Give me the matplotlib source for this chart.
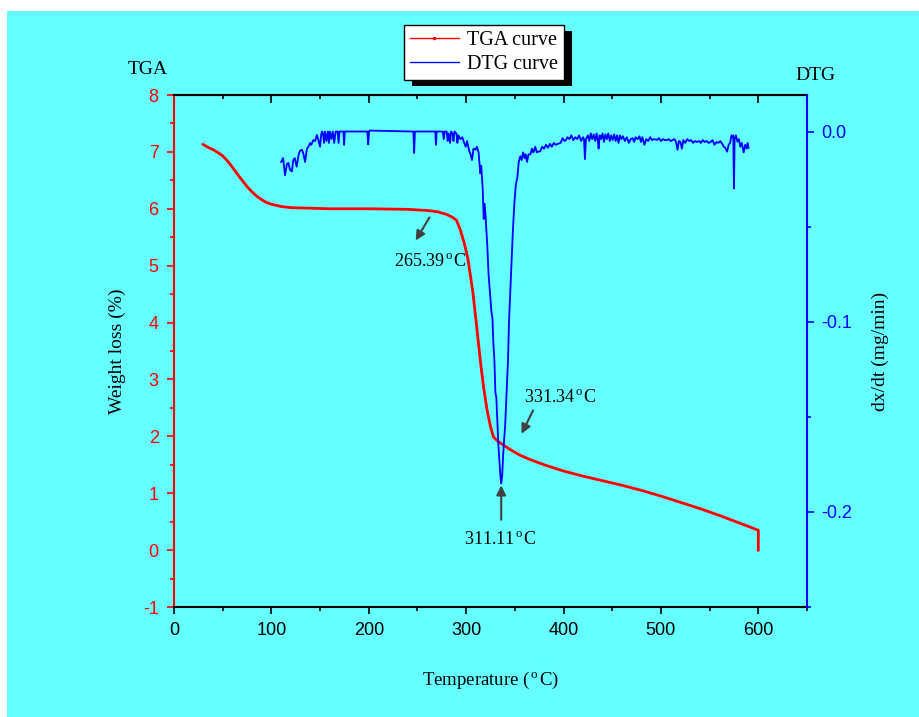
import matplotlib
matplotlib.use('Agg')
import matplotlib.pyplot as plt
from matplotlib.patches import Rectangle
from matplotlib.lines import Line2D
from matplotlib.ticker import MultipleLocator

plt.rcParams['font.family'] = ['Liberation Serif', 'DejaVu Serif']
plt.rcParams['mathtext.fontset'] = 'custom'
plt.rcParams['mathtext.rm'] = 'Liberation Serif'
plt.rcParams['mathtext.it'] = 'Liberation Serif:italic'
plt.rcParams['mathtext.bf'] = 'Liberation Serif:bold'
plt.rcParams['axes.unicode_minus'] = False

# TGA curve (weight loss, %)
tga_temp = [30, 35, 40, 45, 50, 55, 60, 65, 70, 75, 80, 85, 90, 95, 100, 110, 120, 140, 160,
            200, 240, 260, 270, 280, 286, 290, 294, 298, 302, 307, 311, 314.5, 318, 321.5,
            325, 328, 332, 338, 345, 355, 366, 380, 400, 420, 440, 460, 480, 500, 520, 540,
            560, 580, 600, 600]
tga_val = [7.13, 7.08, 7.04, 6.99, 6.93, 6.84, 6.73, 6.61, 6.5, 6.39, 6.3, 6.22, 6.16, 6.11,
           6.08, 6.04, 6.02, 6.01, 6.0, 6.0, 5.99, 5.97, 5.95, 5.9, 5.85, 5.8, 5.63, 5.4,
           5.1, 4.52, 3.9, 3.34, 2.85, 2.46, 2.17, 1.99, 1.92, 1.85, 1.77, 1.67, 1.59, 1.5,
           1.39, 1.30, 1.22, 1.14, 1.05, 0.95, 0.84, 0.73, 0.61, 0.48, 0.35, 0.0]

# DTG curve (dx/dt, mg/min)
dtg_temp = [110, 112, 114, 116, 117.5, 119, 121, 122.5, 124, 126, 128, 129.5, 131.5, 133,
            134.6, 136.5, 138, 139.8, 141, 143, 145, 146.7, 148, 150, 151, 152,
            153, 154, 155, 156.5, 158, 159, 160, 161.5, 163, 164.5, 166, 168, 169, 170,
            174, 174.7, 175.4, 198.5, 199.4, 200.3, 201, 245.8, 246.6, 247.4, 268.3, 269,
            269.7, 276, 277, 278, 280, 281, 282, 283.5, 284.5, 286, 287, 288, 290, 291,
            292, 294, 296, 298, 299.5, 301, 303, 304.5, 306, 307.5, 309.6, 311, 312.8,
            314.5, 315.5, 317, 318, 319, 320, 321.7, 323, 324.5, 326, 327, 328, 329, 330,
            331, 332, 333, 334, 335, 336, 337, 338, 339, 340, 341.5, 343, 344, 345, 346,
            347, 348, 349.5, 351, 352.6, 354, 355.6, 357, 358.5, 360, 361, 362.5, 364,
            366, 367.5, 369, 371, 372.5, 374, 376, 378, 380, 382, 384, 386, 388, 390,
            392, 394, 397, 399, 401, 402.5, 404, 406, 408, 410, 412, 414, 416, 418, 420,
            421, 422, 423, 425, 426.5, 428, 429.5, 431, 432.5, 434, 435.5, 436, 437,
            438.5, 440, 441.5, 443, 444.5, 446, 447.5, 449, 450.5, 452, 453.5, 455,
            456.5, 458, 459.5, 461, 463, 465, 467, 469, 471, 472.5, 474, 476, 478,
            479.5, 481, 483, 485, 487, 489, 491, 493, 496, 498, 500, 502, 504, 506, 508,
            510, 512, 514, 515.5, 517, 518.5, 520, 521.5, 523, 525, 527, 529, 531, 533,
            535, 537, 539, 541, 543, 545, 547, 549, 551, 553, 555, 557, 559, 561, 563,
            564.5, 566, 568, 569.5, 571, 572.5, 573.6, 574.3, 575, 575.7, 577, 578.6,
            580, 581.5, 583, 585, 586.5, 588, 589, 590]
dtg_val = [-0.016, -0.014, -0.023, -0.017, -0.0165, -0.020, -0.021, -0.015, -0.014, -0.0185,
           -0.012, -0.010, -0.0096, -0.012, -0.016, -0.009, -0.008, -0.006, -0.007, -0.0045,
           -0.005, -0.0018, -0.004, -0.008, -0.002, 0.0,
           -0.001, -0.006, 0.0, -0.005, 0.0, -0.006, 0.0, -0.004, 0.0, -0.006, 0.0, 0.0,
           -0.006, 0.0, 0.0, -0.007, 0.0, 0.0, -0.0068, 0.0, 0.0005, 0.0, -0.0113, 0.0,
           0.0, -0.007, 0.0, 0.0, -0.004, 0.0, 0.0, -0.005, -0.001, -0.006, 0.0, -0.001,
           -0.005, 0.0, -0.001, -0.006, -0.002, -0.004, -0.003, -0.006, -0.008, -0.005,
           -0.010, -0.012, -0.015, -0.009, -0.0096, -0.008, -0.011, -0.022, -0.018, -0.030,
           -0.046, -0.038, -0.045, -0.060, -0.075, -0.085, -0.095, -0.098, -0.112, -0.12,
           -0.137, -0.14, -0.152, -0.164, -0.172, -0.180, -0.185, -0.181, -0.17, -0.162,
           -0.155, -0.138, -0.12, -0.10, -0.088, -0.075, -0.063, -0.052, -0.038, -0.028,
           -0.024, -0.016, -0.013, -0.015, -0.011, -0.014, -0.012, -0.016, -0.012, -0.012,
           -0.009, -0.011, -0.008, -0.011, -0.0105, -0.0105, -0.008, -0.009, -0.007,
           -0.0085, -0.0065, -0.008, -0.006, -0.007, -0.0065, -0.006, -0.0035, -0.005,
           -0.0045, -0.003, -0.004, -0.002, -0.0045, -0.003, -0.004, -0.002, -0.005,
           -0.003, -0.004, -0.0145, -0.004, -0.002, -0.005, -0.001, -0.004, -0.0015,
           -0.005, -0.001, -0.006, -0.009, -0.002, -0.004, -0.001, -0.0055, -0.0015,
           -0.004, -0.001, -0.005, -0.002, -0.0045, -0.0015, -0.005, -0.002, -0.006,
           -0.002, -0.004, -0.0025, -0.005, -0.003, -0.006, -0.004, -0.0035, -0.0055,
           -0.003, -0.004, -0.0025, -0.0055, -0.003, -0.007, -0.004, -0.005, -0.003,
           -0.0045, -0.004, -0.0044, -0.0035, -0.005, -0.004, -0.0045, -0.0045, -0.004,
           -0.005, -0.0045, -0.004, -0.0055, -0.0096, -0.005, -0.0055, -0.009, -0.0045,
           -0.006, -0.004, -0.005, -0.0045, -0.006, -0.005, -0.0055, -0.005, -0.006,
           -0.0045, -0.0055, -0.005, -0.006, -0.0055, -0.0045, -0.007, -0.0055, -0.006,
           -0.005, -0.0065, -0.008, -0.0085, -0.0106, -0.007, -0.006, -0.002, -0.0027,
           -0.002, -0.030, -0.004, -0.002, -0.0053, -0.004, -0.008, -0.006, -0.011,
           -0.007, -0.009, -0.006, -0.0086]

x_ticks = [0, 100, 200, 300, 400, 500, 600]
legend_labels = ['TGA curve', 'DTG curve']
gray = '#404040'
deg = r'$^{\,\mathrm{o}\,}$C'

fig = plt.figure(figsize=(9.2, 7.17), dpi=100, facecolor='white')
fig.add_artist(Rectangle((7 / 920, -0.01), 1.01, 1.01 - 11 / 717, transform=fig.transFigure,
                         facecolor='#66FFFF', edgecolor='none', zorder=-5))

ax = fig.add_axes([174 / 920, 110 / 717, 633 / 920, 512 / 717])
ax.set_facecolor('none')
ax.plot(tga_temp, tga_val, color='red', lw=2)
ax.set_xlim(0, 650)
ax.set_ylim(-1, 8)
ax.set_xticks(x_ticks)
ax.xaxis.set_minor_locator(MultipleLocator(50))
ax.yaxis.set_major_locator(MultipleLocator(1))
ax.yaxis.set_minor_locator(MultipleLocator(0.5))
ax.spines['left'].set_color('red')
ax.spines['right'].set_visible(False)
for s in ['left', 'bottom', 'top']:
    ax.spines[s].set_linewidth(1.5)
ax.tick_params(axis='x', which='major', direction='out', length=5, width=1.2, pad=6,
               labelsize=13, top=False)
ax.tick_params(axis='x', which='minor', direction='out', length=3, width=1.2, top=False)
ax.tick_params(axis='y', which='major', direction='out', length=5, width=1.2, pad=6,
               colors='red', labelsize=13)
ax.tick_params(axis='y', which='minor', direction='out', length=3, width=1.2, colors='red')
for lab in ax.get_xticklabels() + ax.get_yticklabels():
    lab.set_fontfamily('Liberation Sans')

secax = ax.secondary_xaxis('top')
secax.set_xticks(x_ticks)
secax.xaxis.set_minor_locator(MultipleLocator(50))
secax.tick_params(axis='x', which='major', direction='in', length=6, width=1.2, labeltop=False)
secax.tick_params(axis='x', which='minor', direction='in', length=3, width=1.2)
secax.spines['top'].set_linewidth(1.5)

ax.set_xlabel('Temperature (' + deg + ')', fontsize=13.5, labelpad=22)
ax.set_ylabel('Weight loss (%)', fontsize=14, labelpad=12)

ax2 = ax.twinx()
ax2.plot(dtg_temp, dtg_val, color='blue', lw=1.3)
ax2.set_ylim(-0.25, 0.0192)
ax2.yaxis.set_major_locator(MultipleLocator(0.1))
ax2.yaxis.set_minor_locator(MultipleLocator(0.05))
for s in ['left', 'top', 'bottom']:
    ax2.spines[s].set_visible(False)
ax2.spines['right'].set_color('blue')
ax2.spines['right'].set_linewidth(1.5)
ax2.tick_params(axis='y', which='major', direction='out', length=5, width=1.2, pad=5,
                colors='blue', labelsize=13)
ax2.tick_params(axis='y', which='minor', direction='out', length=3, width=1.2, colors='blue')
for lab in ax2.get_yticklabels():
    lab.set_fontfamily('Liberation Sans')
ax2.set_ylabel('dx/dt (mg/min)', fontsize=14, labelpad=14)

# annotations
arrow = dict(arrowstyle='-|>', color=gray, lw=1.5, mutation_scale=14)
ax.annotate('', xy=(246.7, 5.40), xytext=(263.8, 5.89), arrowprops=arrow)
ax.text(263, 5.07, '265.39' + deg, fontsize=13, ha='center', va='center')
ax.annotate('', xy=(355.6, 2.0), xytext=(370, 2.5), arrowprops=arrow)
ax.text(397, 2.69, '331.34' + deg, fontsize=13, ha='center', va='center')
ax2.annotate('', xy=(336, -0.1846), xytext=(336, -0.2056), arrowprops=arrow)
ax2.text(335, -0.2146, '311.11' + deg, fontsize=13, ha='center', va='center')

fig.text(148 / 920, 1 - 70 / 717, 'TGA', fontsize=14, ha='center', va='center')
fig.text(815 / 920, 1 - 75 / 717, 'DTG', fontsize=14, ha='center', va='center')

handles = [Line2D([], [], color='red', lw=1, marker='o', markersize=1.5),
           Line2D([], [], color='blue', lw=1)]
leg = fig.legend(handles, legend_labels, loc='upper center',
                 bbox_to_anchor=(484 / 920, 1 - 25 / 717), frameon=True, fancybox=False,
                 edgecolor='black', facecolor='white', framealpha=1, fontsize=14.5,
                 handlelength=2.4, handletextpad=0.4, labelspacing=0.25, borderpad=0.3,
                 borderaxespad=0)
leg.get_frame().set_linewidth(1.0)

fig.canvas.draw()
bb = leg.get_window_extent().transformed(fig.transFigure.inverted())
fig.add_artist(Rectangle((bb.x0 + 8 / 920, bb.y0 - 6 / 717), bb.width, bb.height,
                         transform=fig.transFigure, facecolor='black', edgecolor='none',
                         zorder=leg.get_zorder() - 0.5))

fig.savefig('out.png', dpi=100, facecolor='white')
